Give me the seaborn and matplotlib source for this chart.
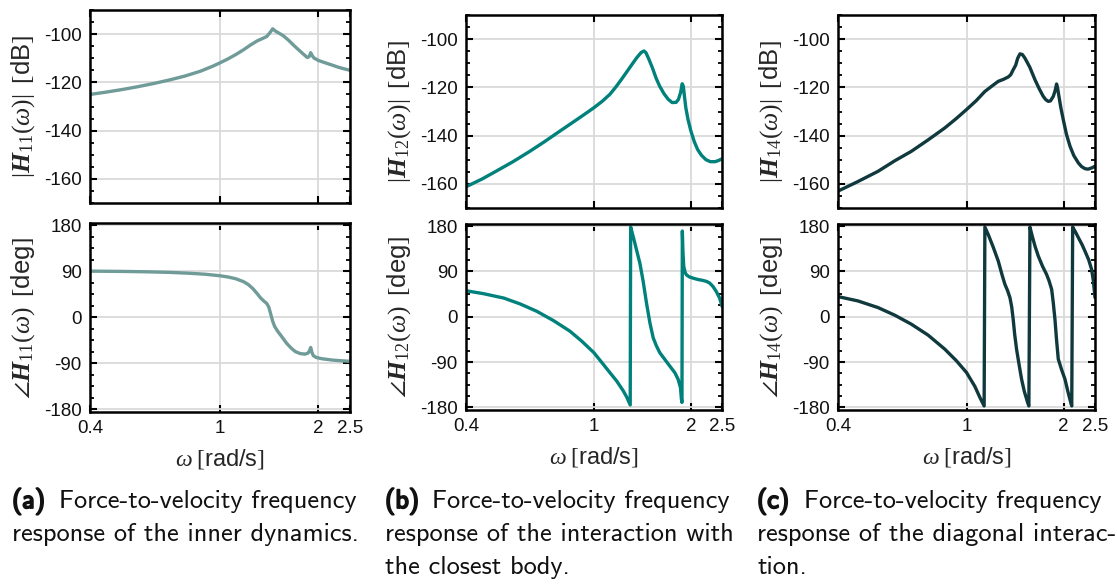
import matplotlib
matplotlib.use("Agg")
import numpy as np
import pandas as pd
import seaborn as sns
import matplotlib.pyplot as plt
from matplotlib import patheffects
from matplotlib.ticker import AutoMinorLocator, NullLocator

# ---------------------------------------------------------------------------
# Frequency responses (omega in rad/s, magnitude in dB, phase in degrees)
# ---------------------------------------------------------------------------
w_h11_mag = [0.40, 0.45, 0.50, 0.56, 0.63, 0.70, 0.78, 0.87, 0.95, 1.00, 1.06, 1.12,
             1.18, 1.24, 1.30, 1.35, 1.39, 1.42, 1.45, 1.48, 1.52, 1.56, 1.62, 1.68,
             1.74, 1.80, 1.85, 1.875, 1.895, 1.915, 1.94, 2.00, 2.10, 2.20, 2.30,
             2.40, 2.50]
h11_mag = [-125.0, -124.0, -123.0, -121.8, -120.4, -119.0, -117.4, -115.4, -113.3,
           -111.9, -110.2, -108.4, -106.5, -104.5, -102.8, -101.8, -101.0, -99.5,
           -97.8, -98.8, -99.7, -100.6, -102.5, -104.6, -106.5, -108.3, -109.7,
           -109.3, -107.7, -108.9, -109.9, -110.9, -111.9, -112.8, -113.7, -114.4,
           -115.0]

w_h11_ph = [0.40, 0.50, 0.60, 0.70, 0.80, 0.90, 1.00, 1.06, 1.12, 1.18, 1.22, 1.26,
            1.30, 1.33, 1.36, 1.39, 1.41, 1.43, 1.45, 1.47, 1.50, 1.55, 1.60, 1.65,
            1.70, 1.76, 1.82, 1.86, 1.88, 1.895, 1.91, 1.93, 1.97, 2.05, 2.20, 2.35,
            2.50]
h11_ph = [90.0, 89.5, 88.7, 87.6, 86.0, 84.0, 81.0, 78.5, 75.0, 69.5, 64.0, 56.0,
          46.0, 38.0, 32.0, 27.0, 20.0, 6.0, -8.0, -18.0, -27.0, -39.0, -51.0, -60.0,
          -67.0, -71.0, -72.0, -70.0, -65.0, -59.0, -68.0, -75.0, -78.5, -81.0,
          -83.5, -85.0, -86.0]

w_h12_mag = [0.40, 0.45, 0.50, 0.56, 0.63, 0.70, 0.78, 0.87, 0.95, 1.00, 1.06, 1.12,
             1.17, 1.22, 1.27, 1.32, 1.36, 1.40, 1.43, 1.45, 1.48, 1.52, 1.56, 1.60,
             1.65, 1.70, 1.75, 1.80, 1.83, 1.86, 1.88, 1.895, 1.91, 1.93, 1.96, 2.00,
             2.05, 2.10, 2.16, 2.23, 2.30, 2.38, 2.44, 2.50]
h12_mag = [-161.2, -157.9, -154.5, -150.8, -146.6, -142.6, -138.3, -134.0, -130.5,
           -128.4, -125.8, -122.9, -119.8, -116.5, -113.2, -110.0, -107.6, -105.6,
           -104.9, -105.6, -108.2, -112.0, -116.2, -119.5, -122.6, -124.9, -126.3,
           -126.2, -125.0, -122.0, -118.5, -119.5, -123.5, -128.5, -133.3, -138.0,
           -142.5, -145.8, -148.2, -150.0, -150.8, -150.8, -150.3, -149.6]

w_h12_ph = [0.40, 0.454, 0.524, 0.590, 0.664, 0.748, 0.842, 0.916, 1.00, 1.069, 1.121,
            1.176, 1.233, 1.263, 1.296,
            1.300, 1.324, 1.356, 1.389, 1.422, 1.456, 1.492, 1.528, 1.564, 1.602,
            1.660, 1.720, 1.784, 1.826, 1.857, 1.870, 1.877,
            1.882, 1.890, 1.901, 1.920, 1.938, 1.980, 2.032, 2.100, 2.183, 2.240,
            2.289, 2.344, 2.400, 2.458, 2.50]
h12_ph = [51.6, 45.7, 37.1, 25.3, 10.8, -7.6, -28.7, -48.4, -71.5, -94.5, -111.0,
          -127.4, -147.0, -159.0, -175.0,
          178.0, 159.0, 132.6, 106.0, 70.0, 27.3, -12.0, -42.0, -58.0, -71.5,
          -84.6, -97.8, -111.0, -124.0, -140.6, -163.6, -170.0,
          170.0, 130.0, 99.7, 88.0, 83.0, 79.0, 76.6, 74.0, 72.0, 70.0,
          66.8, 60.0, 50.0, 37.0, 20.7]

w_h14_mag = [0.40, 0.46, 0.532, 0.60, 0.675, 0.76, 0.857, 0.93, 1.00, 1.07, 1.14,
             1.20, 1.254, 1.30, 1.346, 1.37, 1.395, 1.42, 1.44, 1.464, 1.49, 1.517,
             1.57, 1.629, 1.68, 1.728, 1.76, 1.792, 1.82, 1.857, 1.88, 1.901, 1.915,
             1.933, 1.96, 1.994, 2.04, 2.092, 2.15, 2.22, 2.27, 2.328, 2.38, 2.44,
             2.50]
h14_mag = [-163.0, -159.1, -154.8, -150.4, -146.5, -141.8, -136.8, -132.9, -129.2,
           -125.6, -121.7, -119.4, -117.5, -116.7, -115.7, -114.8, -112.7, -110.8,
           -108.0, -106.1, -106.4, -107.9, -111.6, -116.8, -120.6, -123.7, -125.1,
           -125.8, -125.6, -123.7, -121.5, -118.6, -120.3, -123.7, -128.5, -133.4,
           -139.5, -144.4, -148.3, -151.3, -152.8, -153.7, -153.9, -153.4, -152.7]

w_h14_ph = [0.40, 0.461, 0.532, 0.600, 0.675, 0.761, 0.857, 0.931, 1.00, 1.061, 1.100,
            1.134,
            1.140, 1.167, 1.21, 1.254, 1.29, 1.315, 1.34, 1.363, 1.38, 1.395, 1.41,
            1.429, 1.455, 1.481, 1.51, 1.546, 1.560,
            1.572, 1.598, 1.63, 1.668, 1.72, 1.770, 1.80, 1.835, 1.855, 1.879, 1.90,
            1.924, 1.97, 2.018, 2.06, 2.106, 2.118,
            2.132, 2.18, 2.22, 2.28, 2.328, 2.39, 2.44, 2.47, 2.50]
h14_ph = [40.0, 31.4, 18.2, 3.0, -14.8, -36.6, -64.4, -87.5, -110.6, -138.0, -160.0,
          -177.0,
          178.0, 163.5, 138.0, 110.6, 82.0, 64.4, 52.0, 38.0, 20.0, -5.0, -35.0,
          -64.4, -95.0, -123.8, -148.0, -170.0, -177.0,
          178.0, 160.0, 140.0, 120.6, 100.0, 84.0, 72.0, 54.5, 30.0, -5.0, -45.0,
          -84.0, -105.0, -123.8, -148.0, -172.0, -177.0,
          178.0, 167.0, 157.0, 143.0, 130.0, 113.0, 94.0, 72.0, 38.0]

# Axis ticks and labels
w_ticks = [0.4, 1, 2, 2.5]
w_ticklabels = ["0.4", "1", "2", "2.5"]
mag_ticks = [-160, -140, -120, -100]
ph_ticks = [-180, -90, 0, 90, 180]

pairs = ["11", "12", "14"]
colors = ["#6f9b98", "#00817b", "#10393d"]

captions = [
    ["(a)", "Force-to-velocity frequency", "response of the inner dynamics."],
    ["(b)", "Force-to-velocity frequency", "response of the interaction with",
     "the closest body."],
    ["(c)", "Force-to-velocity frequency", "response of the diagonal interac-",
     "tion."],
]

mag_data = [(w_h11_mag, h11_mag), (w_h12_mag, h12_mag), (w_h14_mag, h14_mag)]
ph_data = [(w_h11_ph, h11_ph), (w_h12_ph, h12_ph), (w_h14_ph, h14_ph)]

# ---------------------------------------------------------------------------
# Style
# ---------------------------------------------------------------------------
sns.set_theme(style="white")
plt.rcParams.update({
    "font.family": ["Liberation Sans", "DejaVu Sans"],
    "mathtext.fontset": "custom",
    "mathtext.rm": "Liberation Serif",
    "mathtext.it": "Liberation Serif:italic",
    "mathtext.bf": "Liberation Serif:italic:bold",
    "mathtext.fallback": "cm",
    "text.color": "#111111",
    "axes.edgecolor": "black",
    "axes.linewidth": 1.8,
    "xtick.direction": "in",
    "ytick.direction": "in",
    "xtick.top": True,
    "ytick.right": True,
    "xtick.bottom": True,
    "ytick.left": True,
    "xtick.major.size": 5,
    "ytick.major.size": 5,
    "xtick.major.width": 1.5,
    "ytick.major.width": 1.5,
    "ytick.minor.size": 3,
    "ytick.minor.width": 1.3,
    "xtick.labelsize": 13.5,
    "ytick.labelsize": 13.5,
    "xtick.color": "black",
    "ytick.color": "black",
    "xtick.labelcolor": "#111111",
    "ytick.labelcolor": "#111111",
    "xtick.major.pad": 6,
    "ytick.major.pad": 6,
})

W, H = 1117, 584
fig = plt.figure(figsize=(W / 100, H / 100), dpi=100)


def frame(x0, x1, y0, y1):
    return [x0 / W, 1 - y1 / H, (x1 - x0) / W, (y1 - y0) / H]


col_x = [(90, 350), (466, 722), (838, 1095)]
mag_y = [(10, 203), (15, 208), (15, 208)]
ph_y = [(223, 412), (224, 410), (224, 410)]
caption_x = [12, 385, 757]
caption_base = [508, 541, 574]
CAPTION_SIZE = 19


def style_axis(ax, width_px, height_px, bottom_row):
    ax.set_xscale("log")
    ax.set_xlim(0.4, 2.5)
    ax.set_xticks(w_ticks)
    ax.xaxis.set_minor_locator(NullLocator())
    if bottom_row:
        ax.set_xticklabels(w_ticklabels)
        ax.set_xlabel(r"$\omega\;[$rad/s$]$", fontsize=17)
        ax.xaxis.set_label_coords(0.5, -35 / height_px)
    else:
        ax.set_xticklabels([])
        ax.set_xlabel("")
    ax.yaxis.set_minor_locator(AutoMinorLocator(4))
    ax.grid(True, which="major", color="#dadada", linewidth=1.3)
    ax.set_axisbelow(True)
    for s in ax.spines.values():
        s.set_visible(True)
        s.set_color("black")
        s.set_linewidth(1.8)
    ax.yaxis.set_label_coords(-53 / width_px, 0.5)


for i in range(3):
    x0, x1 = col_x[i]
    wpx = x1 - x0

    # magnitude
    ax_m = fig.add_axes(frame(x0, x1, *mag_y[i]))
    wm, vm = mag_data[i]
    sns.lineplot(x=wm, y=vm, ax=ax_m, color=colors[i], linewidth=2.4,
                 estimator=None, sort=True)
    ax_m.set_ylim(-170, -90)
    ax_m.set_yticks(mag_ticks)
    ax_m.set_yticklabels([str(t) for t in mag_ticks])
    style_axis(ax_m, wpx, mag_y[i][1] - mag_y[i][0], False)
    ax_m.set_ylabel(r"$|\mathbf{H}_{%s}(\omega)|\;\;[$dB$]$" % pairs[i], fontsize=18.5)

    # phase
    ax_p = fig.add_axes(frame(x0, x1, *ph_y[i]))
    wp, vp = ph_data[i]
    sns.lineplot(x=wp, y=vp, ax=ax_p, color=colors[i], linewidth=2.4,
                 estimator=None, sort=True)
    ax_p.set_ylim(-185, 184)
    ax_p.set_yticks(ph_ticks)
    ax_p.set_yticklabels([str(t) for t in ph_ticks])
    style_axis(ax_p, wpx, ph_y[i][1] - ph_y[i][0], True)
    ax_p.set_ylabel(r"$\angle\mathbf{H}_{%s}(\omega)\;\;[$deg$]$" % pairs[i], fontsize=18.5)

    # caption below each column
    cap = captions[i]
    cx = caption_x[i] / W
    fig.text(cx, 1 - caption_base[0] / H, cap[0], fontsize=CAPTION_SIZE, family="cmss10",
             va="baseline", ha="left", color="#111111",
             path_effects=[patheffects.withStroke(linewidth=1.3, foreground="#111111")])
    fig.text((caption_x[i] + 47) / W, 1 - caption_base[0] / H, cap[1],
             fontsize=CAPTION_SIZE, family="cmss10", va="baseline", ha="left",
             color="#111111")
    for k, line in enumerate(cap[2:]):
        fig.text(cx, 1 - caption_base[k + 1] / H, line, fontsize=CAPTION_SIZE,
                 family="cmss10", va="baseline", ha="left", color="#111111")

fig.savefig("out.png", dpi=100, facecolor="white")
